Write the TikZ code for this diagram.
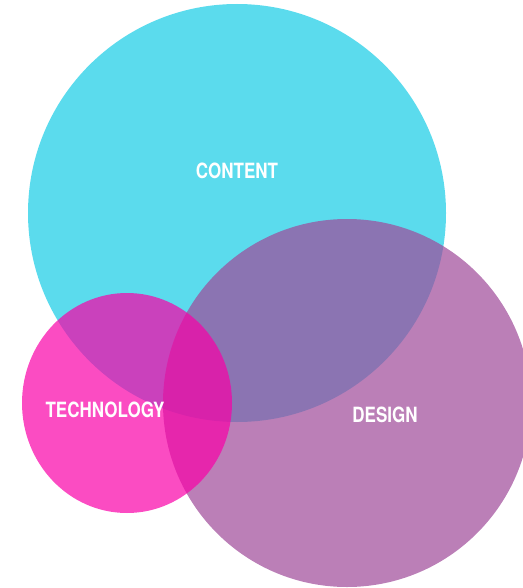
\documentclass[tikz,border=0pt]{standalone}
\usepackage{fontspec}
\usepackage{tikz}
\newfontfamily\vennfont[FakeStretch=0.81]{TeX Gyre Heros}
\definecolor{cyanset}{RGB}{91,219,237}
\definecolor{purpleset}{RGB}{159,75,154}
\definecolor{pinkset}{RGB}{250,0,168}

\begin{document}
\begin{tikzpicture}[x=1pt,y=-1pt,
  setlabel/.style={text=white,font=\vennfont\bfseries\fontsize{21}{21}\selectfont}]
\useasboundingbox (0,0) rectangle (522,588);
\fill[cyanset] (237,213) circle (209);
\fill[purpleset, fill opacity=0.71] (347,403) circle (184);
\fill[pinkset, fill opacity=0.7] (127,403) ellipse (105 and 110);
\node[setlabel] (content) at (237,171) {CONTENT};
\node[setlabel] (technology) at (105,410) {TECHNOLOGY};
\node[setlabel] (design) at (385,415) {DESIGN};
\end{tikzpicture}
\end{document}
